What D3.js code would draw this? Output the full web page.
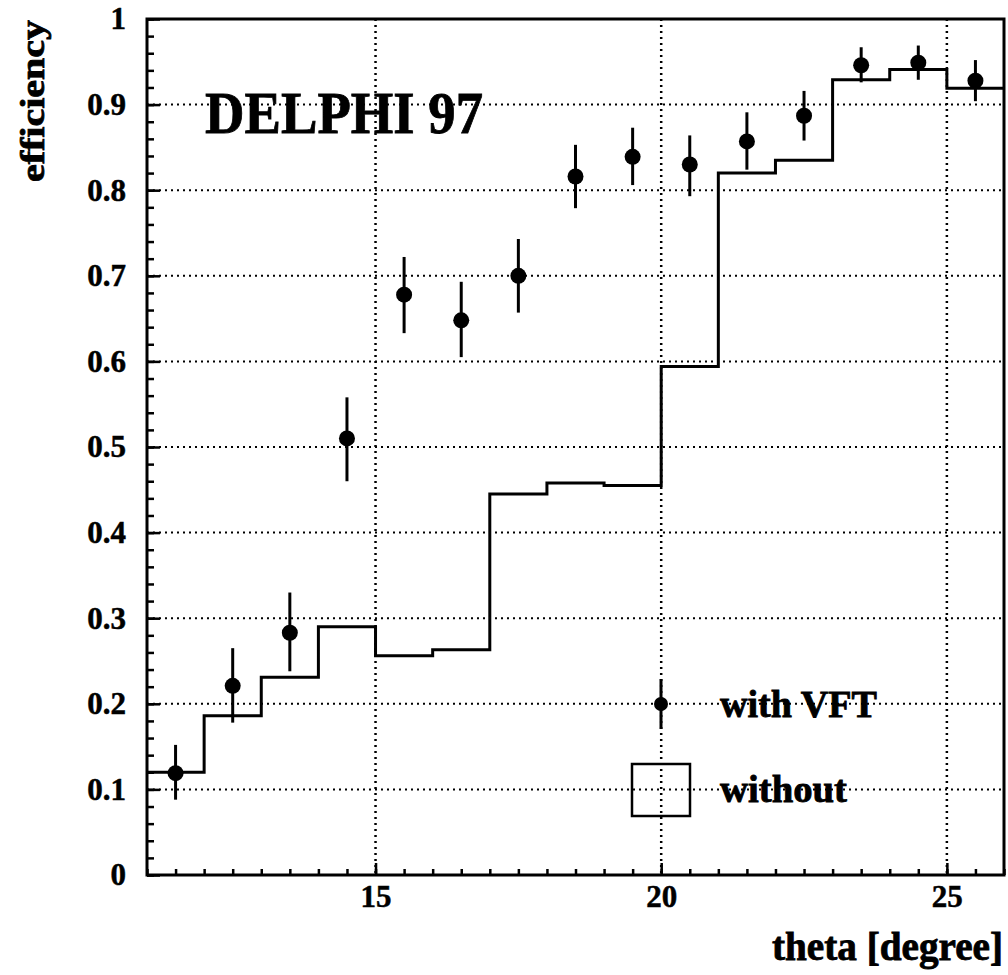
<!DOCTYPE html>
<html>
<head>
<meta charset="utf-8">
<script src="https://cdn.jsdelivr.net/npm/d3@7"></script>
<style>
  body { margin: 0; background: #fff; }
  svg { display: block; font-family: "Liberation Serif", "Times New Roman", serif; font-weight: bold; }
  .grid line, .grid path { stroke: #000; }
  .big { stroke: #000; stroke-width: 0.8; }
</style>
</head>
<body>
<div id="container"></div>
<script>
// bin lower edges (degree), width 1
const binEdges = [11, 12, 13, 14, 15, 16, 17, 18, 19, 20, 21, 22, 23, 24, 25];
// histogram "without"
const without = [0.120, 0.186, 0.231, 0.290, 0.256, 0.263, 0.445, 0.458, 0.455, 0.594, 0.820, 0.835, 0.929, 0.941, 0.919];
// points "with VFT" at bin centres
const withVft = [0.119, 0.221, 0.283, 0.510, 0.678, 0.648, 0.700, 0.816, 0.839, 0.830, 0.857, 0.887, 0.946, 0.949, 0.928];
const errLow = [0.088, 0.178, 0.238, 0.460, 0.633, 0.605, 0.657, 0.779, 0.806, 0.793, 0.824, 0.858, 0.926, 0.929, 0.904];
const errHigh = [0.152, 0.265, 0.330, 0.558, 0.722, 0.693, 0.743, 0.853, 0.873, 0.864, 0.891, 0.916, 0.967, 0.969, 0.952];
const xTicks = [15, 20, 25];
const yTicks = [0, 0.1, 0.2, 0.3, 0.4, 0.5, 0.6, 0.7, 0.8, 0.9, 1];

const W = 1008, H = 975;
const plotLeft = 147, plotRight = 1004, plotTop = 19, plotBottom = 875;

const svg = d3.select('#container').append('svg')
    .attr('width', W)
    .attr('height', H);

const xScale = d3.scaleLinear().domain([11, 26]).range([plotLeft, plotRight]);
const yScale = d3.scaleLinear().domain([0, 1]).range([plotBottom, plotTop]);

// big label, drawn under the grid
svg.append('text')
    .attr('class', 'big')
    .attr('x', 205).attr('y', 133)
    .attr('font-size', 60)
    .attr('textLength', 278)
    .attr('lengthAdjust', 'spacingAndGlyphs')
    .text('DELPHI 97');

// dotted grid
svg.append('g')
    .attr('class', 'grid')
    .selectAll('line')
    .data(yTicks.filter(v => v > 0 && v < 1))
    .enter()
    .append('line')
    .attr('x1', plotLeft).attr('x2', plotRight)
    .attr('y1', d => yScale(d)).attr('y2', d => yScale(d))
    .attr('stroke-width', 2)
    .attr('stroke-dasharray', '2,4');

svg.append('g')
    .attr('class', 'grid')
    .selectAll('line')
    .data(xTicks)
    .enter()
    .append('line')
    .attr('x1', d => xScale(d)).attr('x2', d => xScale(d))
    .attr('y1', plotTop).attr('y2', plotBottom)
    .attr('stroke-width', 2.5)
    .attr('stroke-dasharray', '2,4');

// minor ticks (inward)
const yMinor = svg.append('g')
    .attr('transform', `translate(${plotLeft},0)`)
    .call(d3.axisLeft(yScale)
        .tickValues(d3.range(0, 51).map(i => i / 50))
        .tickSize(-7)
        .tickFormat(''));
yMinor.select('.domain').remove();

const yMajor = svg.append('g')
    .attr('transform', `translate(${plotLeft},0)`)
    .call(d3.axisLeft(yScale)
        .tickValues(yTicks)
        .tickSize(-13)
        .tickPadding(21)
        .tickFormat(d => d3.format('')(d)));
yMajor.select('.domain').remove();
yMajor.selectAll('text')
    .attr('font-size', 31)
    .attr('font-family', '"Liberation Serif", serif')
    .attr('font-weight', 'bold')
    .attr('fill', '#000')
    .attr('stroke', '#000')
    .attr('stroke-width', 0.5);

const xMinor = svg.append('g')
    .attr('transform', `translate(0,${plotBottom})`)
    .call(d3.axisBottom(xScale)
        .tickValues(d3.range(0, 31).map(i => 11 + i / 2))
        .tickSize(-6)
        .tickFormat(''));
xMinor.select('.domain').remove();

const xMajor = svg.append('g')
    .attr('transform', `translate(0,${plotBottom})`)
    .call(d3.axisBottom(xScale)
        .tickValues(xTicks)
        .tickSize(-12)
        .tickPadding(10)
        .tickFormat(d3.format('d')));
xMajor.select('.domain').remove();
xMajor.selectAll('text')
    .attr('font-size', 31)
    .attr('font-family', '"Liberation Serif", serif')
    .attr('font-weight', 'bold')
    .attr('fill', '#000')
    .attr('stroke', '#000')
    .attr('stroke-width', 0.5);

svg.selectAll('.tick line').attr('stroke-width', 2.5);

// histogram "without"
const histPts = binEdges.map((e, i) => [e, without[i]]);
histPts.push([26, without[without.length - 1]]);

svg.append('path')
    .datum(histPts)
    .attr('fill', 'none')
    .attr('stroke', '#000')
    .attr('stroke-width', 3)
    .attr('d', d3.line()
        .x(d => xScale(d[0]))
        .y(d => yScale(d[1]))
        .curve(d3.curveStepAfter));

// points "with VFT"
const pts = binEdges.map((e, i) => ({
    x: e + 0.5, y: withVft[i], lo: errLow[i], hi: errHigh[i]
}));

svg.append('g')
    .selectAll('line')
    .data(pts)
    .enter()
    .append('line')
    .attr('x1', d => xScale(d.x)).attr('x2', d => xScale(d.x))
    .attr('y1', d => yScale(d.lo)).attr('y2', d => yScale(d.hi))
    .attr('stroke', '#000')
    .attr('stroke-width', 3);

svg.append('g')
    .selectAll('circle')
    .data(pts)
    .enter()
    .append('circle')
    .attr('cx', d => xScale(d.x))
    .attr('cy', d => yScale(d.y))
    .attr('r', 8)
    .attr('fill', '#000');

// frame
svg.append('rect')
    .attr('x', plotLeft).attr('y', plotTop)
    .attr('width', plotRight - plotLeft).attr('height', plotBottom - plotTop)
    .attr('fill', 'none')
    .attr('stroke', '#000')
    .attr('stroke-width', 3);

// legend
svg.append('line')
    .attr('x1', 661).attr('x2', 661)
    .attr('y1', 679).attr('y2', 729)
    .attr('stroke', '#000').attr('stroke-width', 3);
svg.append('circle')
    .attr('cx', 661).attr('cy', 704).attr('r', 7)
    .attr('fill', '#000');
svg.append('text')
    .attr('class', 'big')
    .attr('x', 720).attr('y', 717)
    .attr('font-size', 38)
    .attr('textLength', 157)
    .attr('lengthAdjust', 'spacingAndGlyphs')
    .text('with VFT');

svg.append('rect')
    .attr('x', 632).attr('y', 764)
    .attr('width', 58).attr('height', 52)
    .attr('fill', 'none')
    .attr('stroke', '#000').attr('stroke-width', 2.5);
svg.append('text')
    .attr('class', 'big')
    .attr('x', 720).attr('y', 802)
    .attr('font-size', 38)
    .attr('textLength', 127)
    .attr('lengthAdjust', 'spacingAndGlyphs')
    .text('without');

// axis titles
svg.append('text')
    .attr('class', 'big')
    .attr('transform', 'translate(44,101) rotate(-90)')
    .attr('text-anchor', 'middle')
    .attr('font-size', 34)
    .attr('textLength', 162)
    .attr('lengthAdjust', 'spacingAndGlyphs')
    .text('efficiency');

svg.append('text')
    .attr('class', 'big')
    .attr('x', 1003).attr('y', 960)
    .attr('text-anchor', 'end')
    .attr('font-size', 39)
    .attr('textLength', 231)
    .attr('lengthAdjust', 'spacingAndGlyphs')
    .text('theta [degree]');
</script>
</body>
</html>
